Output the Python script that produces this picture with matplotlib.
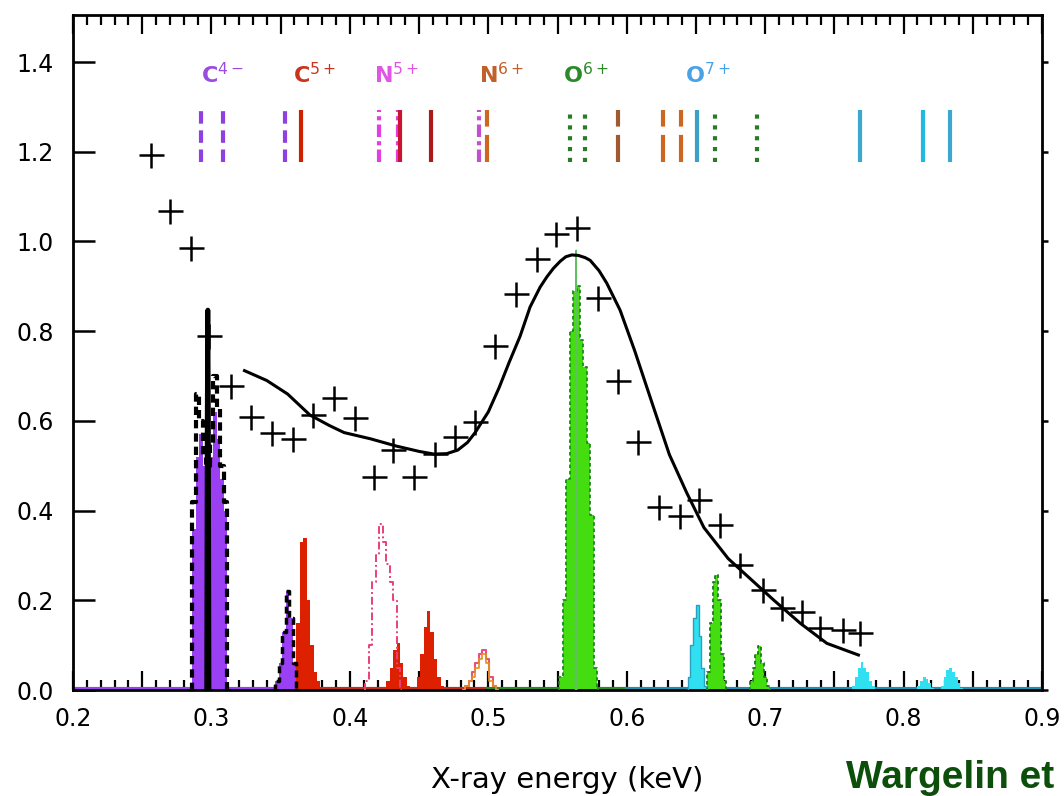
import numpy as np
import matplotlib
matplotlib.use("Agg")
import matplotlib.pyplot as plt
from matplotlib.ticker import FixedLocator, MultipleLocator

# ---------------- data ----------------
# measured points (crosses)
data_e = [0.2567, 0.2704, 0.2853, 0.2983, 0.3139, 0.3289, 0.3439, 0.3587, 0.3737,
          0.3887, 0.4035, 0.4178, 0.4309, 0.4466, 0.4613, 0.4762, 0.4907, 0.5048,
          0.5201, 0.5349, 0.5490, 0.5639, 0.5796, 0.5936, 0.6082, 0.6233, 0.6383,
          0.6521, 0.6671, 0.6819, 0.6983, 0.7121, 0.7265, 0.7397, 0.7561, 0.7686]
data_y = [1.193, 1.068, 0.985, 0.789, 0.678, 0.609, 0.574, 0.560, 0.614,
          0.651, 0.607, 0.476, 0.535, 0.476, 0.526, 0.564, 0.597, 0.766,
          0.882, 0.962, 1.017, 1.029, 0.875, 0.689, 0.552, 0.409, 0.387,
          0.424, 0.368, 0.279, 0.224, 0.182, 0.175, 0.138, 0.134, 0.128]

# model curve
model_e = [0.3239, 0.3400, 0.3550, 0.3712, 0.3850, 0.3958, 0.4150, 0.4334, 0.4500,
           0.4608, 0.4700, 0.4780, 0.4850, 0.4905, 0.5000, 0.5078, 0.5150, 0.5230,
           0.5302, 0.5374, 0.5423, 0.5470, 0.5520, 0.5560, 0.5603, 0.5650, 0.5700,
           0.5736, 0.5800, 0.5856, 0.5952, 0.6057, 0.6182, 0.6308, 0.6433, 0.6558,
           0.6733, 0.6900, 0.7060, 0.7253, 0.7446, 0.7674]
model_y = [0.712, 0.690, 0.660, 0.613, 0.590, 0.574, 0.560, 0.544, 0.532,
           0.526, 0.527, 0.535, 0.552, 0.574, 0.620, 0.674, 0.730, 0.789,
           0.854, 0.898, 0.921, 0.940, 0.956, 0.966, 0.970, 0.969, 0.964,
           0.958, 0.935, 0.907, 0.847, 0.757, 0.641, 0.525, 0.440, 0.362,
           0.293, 0.246, 0.201, 0.149, 0.104, 0.078]

# model line spectra (step histograms)
c4_e = [0.2850, 0.2875, 0.2900, 0.2925, 0.2950, 0.2975, 0.3000, 0.3025, 0.3050,
        0.3075, 0.3100, 0.3125, 0.3150]
c4_fill = [0.0, 0.36, 0.52, 0.57, 0.50, 0.47, 0.52, 0.62, 0.56, 0.47, 0.40, 0.0, 0.0]
c4_dash = [0.0, 0.42, 0.66, 0.60, 0.52, 0.50, 0.55, 0.70, 0.63, 0.50, 0.42, 0.0, 0.0]
spike_e = [0.2966, 0.2970, 0.2974, 0.2978, 0.2982]
spike_y = [0.0, 0.62, 0.847, 0.60, 0.0]

c5p_e = [0.3450, 0.3475, 0.3500, 0.3525, 0.3550, 0.3575, 0.3600, 0.3625]
c5p_y = [0.0, 0.02, 0.06, 0.13, 0.22, 0.16, 0.06, 0.0]

c5r_e = [0.3600, 0.3625, 0.3650, 0.3675, 0.3700, 0.3725, 0.3750, 0.3775, 0.3800]
c5r_y = [0.0, 0.15, 0.33, 0.34, 0.20, 0.10, 0.04, 0.02, 0.0]

n5a_e = [0.4250, 0.4275, 0.4300, 0.4325, 0.4350, 0.4375, 0.4400, 0.4425, 0.4450]
n5a_y = [0.0, 0.02, 0.05, 0.09, 0.105, 0.06, 0.03, 0.01, 0.0]

n5b_e = [0.4470, 0.4495, 0.4520, 0.4545, 0.4570, 0.4595, 0.4620, 0.4645, 0.4670, 0.4695]
n5b_y = [0.0, 0.03, 0.08, 0.14, 0.177, 0.13, 0.07, 0.03, 0.01, 0.0]

n5m_e = [0.4100, 0.4125, 0.4150, 0.4175, 0.4200, 0.4225, 0.4250, 0.4275, 0.4300,
         0.4325, 0.4350, 0.4375]
n5m_y = [0.0, 0.02, 0.10, 0.24, 0.30, 0.37, 0.33, 0.28, 0.24, 0.20, 0.05, 0.0]

n6_e = [0.4820, 0.4845, 0.4870, 0.4895, 0.4920, 0.4945, 0.4970, 0.4995, 0.5020,
        0.5045, 0.5070]
n6_y = [0.0, 0.01, 0.02, 0.04, 0.06, 0.08, 0.09, 0.07, 0.03, 0.01, 0.0]
n6o_y = [0.0, 0.01, 0.02, 0.03, 0.05, 0.07, 0.08, 0.06, 0.02, 0.01, 0.0]

o6a_e = [0.5500, 0.5525, 0.5550, 0.5575, 0.5600, 0.5625, 0.5650, 0.5675, 0.5700,
         0.5725, 0.5750, 0.5775, 0.5800]
o6a_y = [0.0, 0.03, 0.20, 0.47, 0.80, 0.89, 0.90, 0.78, 0.72, 0.55, 0.39, 0.05, 0.0]
o6spike_e = [0.5630, 0.5635, 0.5640]
o6spike_y = [0.0, 0.98, 0.0]

o7a_e = [0.6430, 0.6450, 0.6470, 0.6490, 0.6510, 0.6530, 0.6550, 0.6570, 0.6590]
o7a_y = [0.0, 0.03, 0.10, 0.16, 0.19, 0.12, 0.05, 0.01, 0.0]

o6b_e = [0.6570, 0.6590, 0.6610, 0.6630, 0.6650, 0.6670, 0.6690, 0.6710, 0.6730]
o6b_y = [0.0, 0.04, 0.15, 0.24, 0.256, 0.20, 0.08, 0.02, 0.0]

o6c_e = [0.6880, 0.6900, 0.6920, 0.6940, 0.6960, 0.6980, 0.7000, 0.7020, 0.7040]
o6c_y = [0.0, 0.02, 0.05, 0.08, 0.097, 0.06, 0.03, 0.01, 0.0]

o7b_e = [0.7620, 0.7640, 0.7660, 0.7680, 0.7700, 0.7720, 0.7740, 0.7760, 0.7780, 0.7800]
o7b_y = [0.0, 0.01, 0.03, 0.05, 0.063, 0.05, 0.04, 0.02, 0.01, 0.0]

o7c_e = [0.8090, 0.8110, 0.8130, 0.8150, 0.8170, 0.8190, 0.8210, 0.8230]
o7c_y = [0.0, 0.01, 0.02, 0.029, 0.025, 0.015, 0.005, 0.0]

o7d_e = [0.8260, 0.8280, 0.8300, 0.8320, 0.8340, 0.8360, 0.8380, 0.8400, 0.8420, 0.8440]
o7d_y = [0.0, 0.01, 0.03, 0.045, 0.048, 0.04, 0.03, 0.015, 0.005, 0.0]

# line identification markers
ion_labels = ["C$^{4-}$", "C$^{5+}$", "N$^{5+}$", "N$^{6+}$", "O$^{6+}$", "O$^{7+}$"]
ion_label_e = [0.2925, 0.3590, 0.4175, 0.4934, 0.5541, 0.6422]
ion_label_colors = ["#9a4ce0", "#c8341c", "#e055e6", "#c0602a", "#2a8a2a", "#4aa2e6"]

marker_e = [0.2928, 0.3085, 0.3533, 0.3645, 0.4210, 0.4345, 0.4365, 0.4583,
            0.4931, 0.4994, 0.5593, 0.5699, 0.5939, 0.6265, 0.6395, 0.6508,
            0.6639, 0.6941, 0.7687, 0.8142, 0.8338]
marker_color = ["#9040e0", "#9040e0", "#9040e0", "#cc2200", "#e040e0", "#e040e0",
                "#cc1133", "#aa1a1a", "#c050d0", "#cc6620", "#2a7a2a", "#2a7a2a",
                "#a05a30", "#cc6620", "#cc6620", "#3aa0c8", "#2a7a2a", "#2a7a2a",
                "#3aa8d0", "#22b8e0", "#3aa8d0"]
marker_style = ["dash", "dash", "dash", "solid", "dashdot", "dashdot",
                "solid", "solid", "dashdot", "dashed2", "dot", "dot",
                "dashed2", "dashed2", "dashed2", "solid", "dot", "dot",
                "solid", "solid", "solid"]
marker_lo, marker_hi = 1.177, 1.294

xtick_labels = ["0.2", "0.3", "0.4", "0.5", "0.6", "0.7", "0.8", "0.9"]
ytick_labels = ["0.0", "0.2", "0.4", "0.6", "0.8", "1.0", "1.2", "1.4"]

# ---------------- figure ----------------
W, H = 1064, 796
fig = plt.figure(figsize=(W / 100, H / 100), dpi=100)
L, R, B, T = 73, 1042, 690, 15
ax = fig.add_axes([L / W, 1 - B / H, (R - L) / W, (B - T) / H])
ax.set_xlim(0.2, 0.9)
ax.set_ylim(0.0, 1.505)

PURPLE = "#9b3ff5"
RED = "#dd2000"
GREEN = "#44dd10"
CYAN = "#30e0f0"

def stepfill(e, y, color, z=2):
    ax.fill_between(e, y, 0, step="mid", color=color, lw=0, zorder=z)

def stepline(e, y, color, ls="-", lw=1.2, z=3):
    ax.step(e, y, where="mid", color=color, ls=ls, lw=lw, zorder=z)

# baseline noise colours
ax.plot([0.2, 0.36], [0.003, 0.003], color=PURPLE, lw=3, zorder=2)
ax.plot([0.36, 0.50], [0.003, 0.003], color="#c03020", lw=3, zorder=2)
ax.plot([0.50, 0.60], [0.003, 0.003], color="#2a8a2a", lw=3, zorder=2)
ax.plot([0.60, 0.90], [0.003, 0.003], color="#2090b0", lw=3, zorder=2)

stepfill(c4_e, c4_fill, PURPLE)
stepline(c4_e, c4_dash, "black", ls=(0, (2.0, 1.2)), lw=3.0, z=4)
ax.plot(spike_e, spike_y, color="black", lw=3.5, zorder=5)

stepfill(c5p_e, c5p_y, PURPLE)
stepline(c5p_e, c5p_y, "black", ls=(0, (2.0, 1.2)), lw=2.5, z=4)
stepfill(c5r_e, c5r_y, RED)
stepfill(n5a_e, n5a_y, RED)
stepfill(n5b_e, n5b_y, RED)
stepline(n5m_e, n5m_y, "#e8407a", ls=(0, (4, 1.5, 1, 1.5)), lw=1.4, z=4)
stepline(n6_e, n6_y, "#e8507a", lw=1.5, z=4)
stepline(n6_e, n6o_y, "#e09020", lw=1.2, z=4)

stepfill(o6a_e, o6a_y, GREEN)
stepline(o6a_e, o6a_y, "#1a8a1a", ls=(0, (2, 1.5)), lw=1.3, z=4)
ax.plot(o6spike_e, o6spike_y, color="#60c060", lw=1.2, zorder=4)

stepfill(o7a_e, o7a_y, CYAN)
stepline(o7a_e, o7a_y, "#2aa0c0", lw=1.0, z=4)
stepfill(o6b_e, o6b_y, GREEN)
stepline(o6b_e, o6b_y, "#1a7a1a", ls=(0, (2, 1.5)), lw=1.3, z=4)
stepfill(o6c_e, o6c_y, GREEN)
stepline(o6c_e, o6c_y, "#1a7a1a", ls=(0, (2, 1.5)), lw=1.3, z=4)
stepfill(o7b_e, o7b_y, CYAN)
stepfill(o7c_e, o7c_y, CYAN)
stepfill(o7d_e, o7d_y, CYAN)

# model curve and data
ax.plot(model_e, model_y, color="black", lw=2.2, zorder=6)
ax.plot(data_e, data_y, ls="none", marker="+", ms=18, mew=1.8, color="black", zorder=7)

# line markers
styles = {"solid": "-", "dash": (0, (3.0, 1.6)), "dashdot": (0, (3, 1, 1, 1)),
          "dashed2": (0, (6.5, 2.0)), "dot": (0, (1.0, 1.6))}
for e, c, s in zip(marker_e, marker_color, marker_style):
    ax.plot([e, e], [marker_lo, marker_hi], color=c, ls=styles[s], lw=3.0,
            solid_capstyle="butt", dash_capstyle="butt", zorder=5)

for lab, e, c in zip(ion_labels, ion_label_e, ion_label_colors):
    ax.text(e, 1.373, lab, color=c, fontsize=16, fontweight="bold",
            ha="left", va="center", zorder=6)

# ---------------- axes styling ----------------
for sp in ax.spines.values():
    sp.set_linewidth(2.0)

xt = [0.2 + 0.05 * i for i in range(15)]
ax.xaxis.set_major_locator(FixedLocator(xt))
lab_map = {round(0.2 + 0.1 * i, 2): xtick_labels[i] for i in range(8)}
ax.set_xticklabels([lab_map.get(round(v, 2), "") for v in xt])
ax.xaxis.set_minor_locator(MultipleLocator(0.01))
ax.tick_params(axis="x", which="major", direction="in", length=14, width=1.6,
               top=True, bottom=True, labelsize=17, pad=12)
ax.tick_params(axis="x", which="minor", direction="in", length=7, width=1.6,
               top=True, bottom=True)

yt = [0.2 * i for i in range(8)]
ax.yaxis.set_major_locator(FixedLocator(yt))
ax.set_yticklabels(ytick_labels)
ax.tick_params(axis="y", which="major", direction="in", length=16, width=1.8,
               left=True, right=True, labelsize=17, pad=14)

# small outward parts of the right-hand ticks
ax2 = ax.twinx()
ax2.set_ylim(ax.get_ylim())
ax2.yaxis.set_major_locator(FixedLocator(yt))
ax2.tick_params(axis="y", direction="out", length=4, width=1.8, labelright=False)
for sp in ax2.spines.values():
    sp.set_visible(False)

fig.text(567 / W, 1 - 788 / H, "X-ray energy (keV)", fontsize=21, ha="center",
         va="baseline", color="black")
fig.text(846 / W, 1 - 788 / H, "Wargelin et", fontsize=28, fontweight="bold",
         family="Liberation Sans", ha="left", va="baseline", color="#0b4f0b")

fig.savefig("out.png", dpi=100)
